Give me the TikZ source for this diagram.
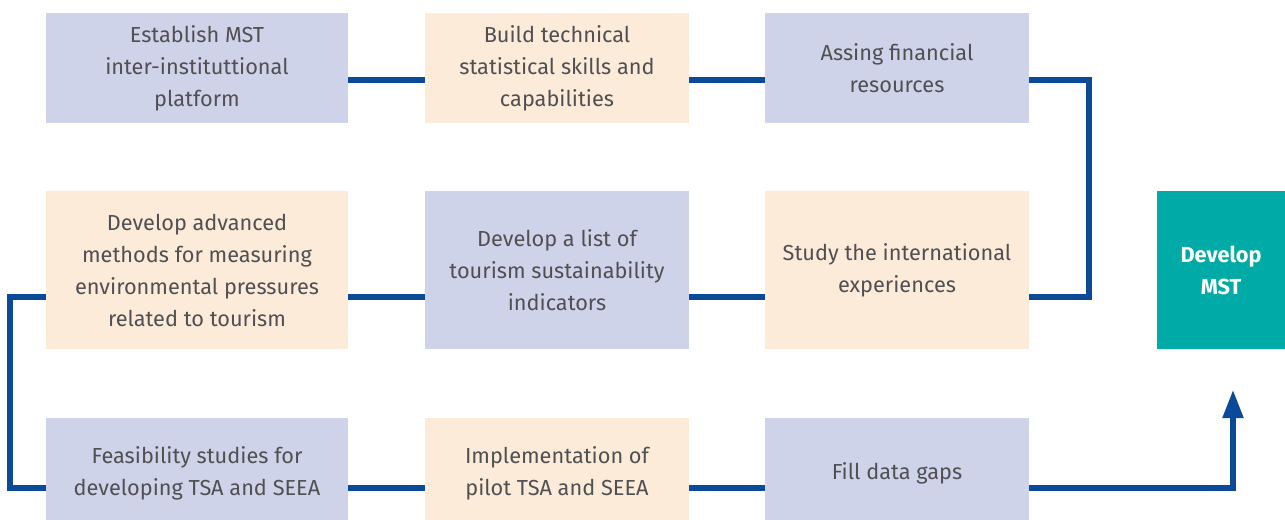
\documentclass[tikz,border=0pt]{standalone}
\usepackage{fontspec}
\setmainfont{Fira Sans}
\usetikzlibrary{arrows.meta}
\usetikzlibrary{positioning}
\definecolor{boxblue}{HTML}{CFD3EA}
\definecolor{boxpeach}{HTML}{FDEBDA}
\definecolor{mstteal}{HTML}{00AAA7}
\definecolor{linkblue}{HTML}{0B4A99}
\definecolor{txtgray}{HTML}{505052}
\begin{document}
\begin{tikzpicture}[x=0.75pt,y=-0.75pt,line cap=butt]
\tikzset{stepbox/.style={rectangle,inner sep=2pt,align=center,text=txtgray,
        font=\fontsize{16.3}{24}\selectfont,minimum height=#1*0.75pt},
    bluebox/.style={stepbox=#1,fill=boxblue},
    peachbox/.style={stepbox=#1,fill=boxpeach},
    widebox/.style={minimum width=302*0.75pt},
    narrowbox/.style={minimum width=264*0.75pt},
    link/.style={draw=linkblue,line width=3.8pt}
}
\useasboundingbox (0,0) rectangle (1285,520);
\clip (0,0) rectangle (1285,520);

% first row
\node[bluebox=110,widebox] (a1) at (197,68) {Establish MST\\inter-instituttional\\platform};
\node[peachbox=110,narrowbox] (a2) at (557,68) {Build technical\\statistical skills and\\capabilities};
\node[bluebox=110,narrowbox] (a3) at (897,68) {Assing financial\\resources};

% second row
\node[peachbox=158,widebox] (b1) at (197,270) {Develop advanced\\methods for measuring\\environmental pressures\\related to tourism};
\node[bluebox=158,narrowbox] (b2) at (557,270) {Develop a list of\\tourism sustainability\\indicators};
\node[peachbox=158,narrowbox] (b3) at (897,270) {Study the international\\experiences};

% third row (runs off the bottom edge)
\node[bluebox=111,widebox] (c1) at (197,473.5) {Feasibility studies for\\developing TSA and SEEA};
\node[peachbox=111,narrowbox] (c2) at (557,473.5) {Implementation of\\pilot TSA and SEEA};
\node[bluebox=111,narrowbox] (c3) at (897,473.5) {Fill data gaps};

% goal
\node[rectangle,fill=mstteal,text=white,align=center,minimum width=128*0.75pt,
      minimum height=158*0.75pt,font=\fontsize{16.3}{24}\selectfont\bfseries] (mst) at (1221,270) {Develop\\MST};

\coordinate (r1) at (0,80);
\coordinate (r2) at (0,297);
\coordinate (r3) at (0,488);
\coordinate (cr) at (1089,0);
\coordinate (cl) at (10,0);
\coordinate (up) at (1233,390);

\draw[link] (a1.east |- r1) -- (a2.west |- r1);
\draw[link] (a2.east |- r1) -- (a3.west |- r1);
\draw[link] (a3.east |- r1) -| (cr |- r2) -- (b3.east |- r2);
\draw[link] (b3.west |- r2) -- (b2.east |- r2);
\draw[link] (b2.west |- r2) -- (b1.east |- r2);
\draw[link] (b1.west |- r2) -| (cl |- r3) -- (c1.west |- r3);
\draw[link] (c1.east |- r3) -- (c2.west |- r3);
\draw[link] (c2.east |- r3) -- (c3.west |- r3);
\draw[link,-{Triangle[length=21pt,width=15pt]}] (c3.east |- r3) -| (up);
\end{tikzpicture}
\end{document}
